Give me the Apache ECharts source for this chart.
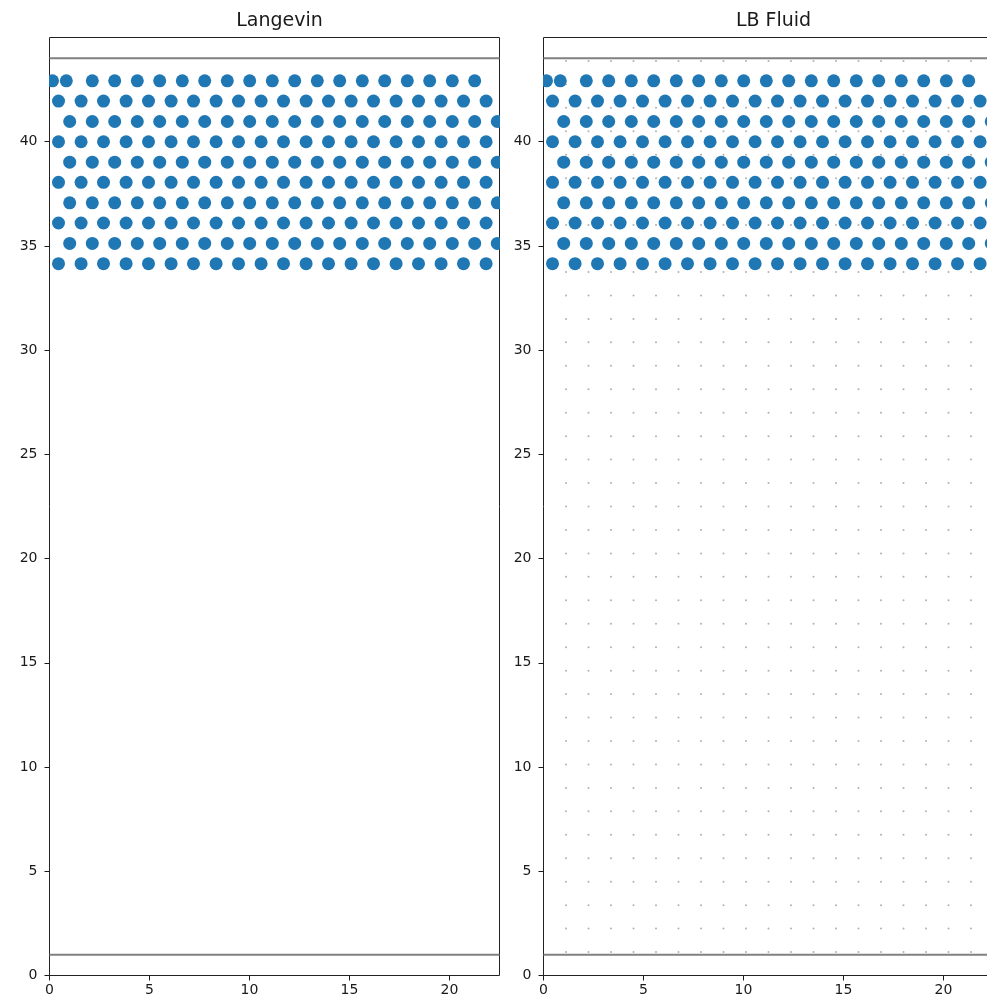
<!DOCTYPE html>
<html>
<head>
<meta charset="utf-8">
<script src="https://cdn.jsdelivr.net/npm/echarts@6/dist/echarts.min.js"></script>
<style>
  html, body { margin: 0; padding: 0; background: #ffffff; }
  #chart { width: 987px; height: 1004px; }
</style>
</head>
<body>
<div id="chart"></div>
<script>
// Panel titles and axis ticks
const panelTitles = ['Langevin', 'LB Fluid'];
const xTicks = [0, 5, 10, 15, 20];
const yTicks = [0, 5, 10, 15, 20, 25, 30, 35, 40];
const xRange = [0, 22.5];
const yRange = [0, 45];

// Confining walls (horizontal lines)
const wallHeights = [1, 44];

// Particle layer: height of each row, bottom to top
const rowHeights = [34.15, 35.12, 36.1, 37.07, 38.05, 39.02, 40.0, 40.97, 41.95, 42.92];
// x positions of particles in the rows
const evenRowX = [0.45, 1.58, 2.7, 3.83, 4.95, 6.08, 7.2, 8.33, 9.45, 10.58,
                  11.7, 12.83, 13.95, 15.08, 16.2, 17.33, 18.45, 19.58, 20.7, 21.83];
const oddRowX  = [1.01, 2.14, 3.26, 4.39, 5.51, 6.64, 7.76, 8.89, 10.01, 11.14,
                  12.26, 13.39, 14.51, 15.64, 16.76, 17.89, 19.01, 20.14, 21.26, 22.39];
const topRowX  = [0.15, 0.84, 2.14, 3.26, 4.39, 5.51, 6.64, 7.76, 8.89, 10.01,
                  11.14, 12.26, 13.39, 14.51, 15.64, 16.76, 17.89, 19.01, 20.14, 21.26];
const rowXLists = [evenRowX, oddRowX, evenRowX, oddRowX, evenRowX,
                   oddRowX, evenRowX, oddRowX, evenRowX, topRowX];

// Lattice-Boltzmann fluid nodes
const nodeX = [1.125, 2.25, 3.375, 4.5, 5.625, 6.75, 7.875, 9, 10.125, 11.25,
               12.375, 13.5, 14.625, 15.75, 16.875, 18, 19.125, 20.25, 21.375];
const nodeY = [1.125, 2.25, 3.375, 4.5, 5.625, 6.75, 7.875, 9, 10.125, 11.25,
               12.375, 13.5, 14.625, 15.75, 16.875, 18, 19.125, 20.25, 21.375, 22.5,
               23.625, 24.75, 25.875, 27, 28.125, 29.25, 30.375, 31.5, 32.625, 33.75,
               34.875, 36, 37.125, 38.25, 39.375, 40.5, 41.625, 42.75, 43.875];

// ---- build series data ----
const particles = [];
rowHeights.forEach((y, i) => rowXLists[i].forEach(x => particles.push([x, y])));
const nodes = [];
nodeY.forEach(y => nodeX.forEach(x => nodes.push([x, y])));

// ---- layout (half-pixel offsets keep the 1px frame crisp) ----
const plotTop = 37.5, plotHeight = 938;
const panels = [{ left: 49.5, width: 450 }, { left: 543.5, width: 450 }];
const textColor = '#1a1a1a';
const font = 'DejaVu Sans';

const grids = panels.map(p => ({
  left: p.left, top: plotTop, width: p.width, height: plotHeight,
  outerBoundsMode: 'none', containLabel: false,
  show: true, borderColor: '#222222', borderWidth: 1, backgroundColor: 'transparent'
}));

const xAxes = panels.map((p, i) => ({
  type: 'value', gridIndex: i, min: xRange[0], max: xRange[1], z: 60,
  axisLine: { show: false },
  splitLine: { show: false },
  axisTick: { show: true, inside: false, length: 5, customValues: xTicks,
              lineStyle: { color: textColor, width: 1 } },
  axisLabel: { customValues: xTicks, margin: 8, fontFamily: font, fontSize: 14, color: textColor }
}));

const yAxes = panels.map((p, i) => ({
  type: 'value', gridIndex: i, min: yRange[0], max: yRange[1], z: 60,
  axisLine: { show: false },
  splitLine: { show: false },
  axisTick: { show: true, inside: false, length: 5, customValues: yTicks,
              lineStyle: { color: textColor, width: 1 } },
  axisLabel: { customValues: yTicks, margin: 12, fontFamily: font, fontSize: 14, color: textColor }
}));

const series = [];
// fluid nodes (LB panel only)
series.push({
  type: 'scatter', xAxisIndex: 1, yAxisIndex: 1, data: nodes,
  symbol: 'circle', symbolSize: 2, silent: true, z: 1,
  itemStyle: { color: 'rgba(100,100,100,0.5)', opacity: 1 }
});
panels.forEach((p, i) => {
  series.push({
    type: 'scatter', xAxisIndex: i, yAxisIndex: i, data: particles,
    symbol: 'circle', symbolSize: 13, silent: true, z: 2,
    itemStyle: { color: '#1f77b4', opacity: 1 }
  });
  wallHeights.forEach(h => {
    series.push({
      type: 'line', xAxisIndex: i, yAxisIndex: i,
      data: [[xRange[0], h], [xRange[1], h]],
      showSymbol: false, silent: true, z: 3,
      lineStyle: { color: '#808080', width: 2 }
    });
  });
});

// white strips outside the frames so particles are cut at the axes
const masks = [
  { type: 'rect', shape: { x: 0, y: 0, width: panels[0].left - 0.5, height: 1004 } },
  { type: 'rect', shape: { x: panels[0].left + panels[0].width + 0.5, y: 0,
                           width: panels[1].left - panels[0].left - panels[0].width - 1, height: 1004 } }
].map(m => Object.assign(m, { z: 50, silent: true, style: { fill: '#ffffff' } }));

const titles = panels.map((p, i) => ({
  text: panelTitles[i], left: p.left + p.width / 2, top: 7, textAlign: 'center',
  textStyle: { fontFamily: font, fontSize: 19, fontWeight: 'normal', color: textColor }
}));

const chart = echarts.init(document.getElementById('chart'), null, { renderer: 'canvas' });
chart.setOption({
  animation: false,
  backgroundColor: '#ffffff',
  title: titles,
  grid: grids,
  xAxis: xAxes,
  yAxis: yAxes,
  series: series,
  graphic: { elements: masks }
});
</script>
</body>
</html>
